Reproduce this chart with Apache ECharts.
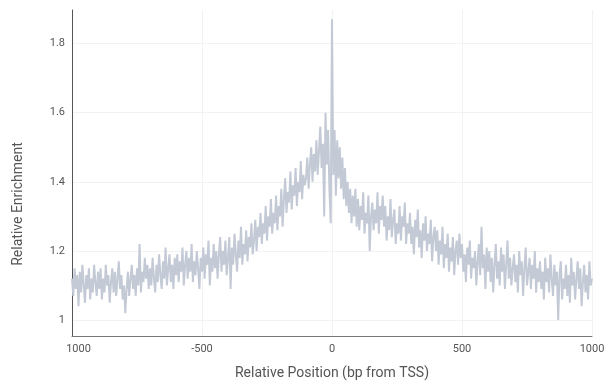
<!DOCTYPE html>
<html>
<head>
<meta charset="utf-8">
<script src="https://cdn.jsdelivr.net/npm/echarts@6/dist/echarts.min.js"></script>
<style>
  html, body { margin: 0; padding: 0; background: #fff; }
  #chart { width: 613px; height: 385px; }
</style>
</head>
<body>
<div id="chart"></div>
<script>
// Relative enrichment profile around the TSS, sampled every 5 bp from -1000 to +1000
const startPos = -1000;
const stepBp = 5;
const enrichment = [
  // -1000 .. -905
  1.12,1.07,1.15,1.09,1.13,1.04,1.14,1.08,1.16,1.10,1.05,1.13,1.09,1.15,1.06,1.12,1.08,1.16,1.11,1.07,
  // -900 .. -805
  1.14,1.09,1.15,1.06,1.12,1.08,1.16,1.10,1.13,1.05,1.11,1.15,1.08,1.14,1.07,1.12,1.17,1.09,1.13,1.06,
  // -800 .. -705
  1.10,1.02,1.09,1.14,1.07,1.12,1.16,1.09,1.13,1.07,1.15,1.10,1.22,1.08,1.14,1.11,1.18,1.12,1.16,1.09,
  // -700 .. -605
  1.15,1.10,1.18,1.12,1.08,1.16,1.11,1.19,1.13,1.09,1.17,1.12,1.21,1.10,1.15,1.19,1.11,1.16,1.09,1.18,
  // -600 .. -505
  1.13,1.19,1.11,1.17,1.14,1.21,1.10,1.16,1.20,1.12,1.18,1.14,1.22,1.11,1.17,1.13,1.20,1.15,1.09,1.18,
  // -500 .. -405
  1.14,1.21,1.12,1.19,1.16,1.23,1.10,1.18,1.14,1.22,1.15,1.20,1.12,1.19,1.24,1.14,1.20,1.16,1.23,1.13,
  // -400 .. -305
  1.18,1.24,1.09,1.21,1.16,1.25,1.19,1.14,1.23,1.18,1.27,1.16,1.22,1.19,1.26,1.17,1.24,1.21,1.28,1.19,
  // -300 .. -205
  1.23,1.29,1.20,1.27,1.24,1.31,1.22,1.28,1.25,1.33,1.23,1.30,1.27,1.35,1.25,1.31,1.28,1.36,1.26,1.33,
  // -200 .. -105
  1.30,1.38,1.27,1.35,1.41,1.31,1.37,1.34,1.43,1.32,1.39,1.36,1.44,1.33,1.40,1.37,1.46,1.35,1.42,1.39,
  // -100 .. -5
  1.41,1.47,1.38,1.45,1.50,1.40,1.48,1.43,1.52,1.42,1.49,1.56,1.44,1.51,1.30,1.60,1.45,1.55,1.38,1.28,
  // 0 .. 95
  1.87,1.42,1.55,1.36,1.52,1.41,1.50,1.38,1.47,1.35,1.44,1.33,1.40,1.31,1.38,1.28,1.36,1.30,1.38,1.27,
  // 100 .. 195
  1.35,1.26,1.33,1.29,1.37,1.25,1.31,1.28,1.36,1.20,1.30,1.34,1.26,1.32,1.28,1.37,1.25,1.33,1.29,1.36,
  // 200 .. 295
  1.27,1.33,1.23,1.30,1.26,1.35,1.24,1.29,1.32,1.22,1.28,1.25,1.33,1.23,1.30,1.27,1.34,1.22,1.28,1.25,
  // 300 .. 395
  1.31,1.22,1.27,1.19,1.29,1.24,1.32,1.21,1.26,1.18,1.28,1.23,1.30,1.20,1.25,1.22,1.29,1.17,1.24,1.27,
  // 400 .. 495
  1.20,1.26,1.16,1.23,1.19,1.27,1.15,1.22,1.18,1.25,1.14,1.21,1.17,1.24,1.13,1.20,1.23,1.16,1.25,1.18,
  // 500 .. 595
  1.22,1.14,1.19,1.11,1.21,1.16,1.23,1.12,1.18,1.15,1.20,1.10,1.17,1.22,1.13,1.27,1.15,1.19,1.09,1.21,
  // 600 .. 695
  1.14,1.20,1.11,1.18,1.08,1.16,1.22,1.12,1.17,1.10,1.21,1.14,1.19,1.09,1.16,1.23,1.12,1.18,1.10,1.15,
  // 700 .. 795
  1.19,1.11,1.16,1.08,1.20,1.13,1.17,1.07,1.15,1.21,1.10,1.14,1.18,1.09,1.16,1.12,1.20,1.08,1.15,1.11,
  // 800 .. 895
  1.17,1.09,1.14,1.06,1.18,1.11,1.15,1.08,1.19,1.12,1.07,1.16,1.10,1.14,1.00,1.13,1.17,1.06,1.12,1.09,
  // 900 .. 995
  1.16,1.07,1.13,1.05,1.18,1.10,1.14,1.06,1.12,1.17,1.09,1.15,1.04,1.11,1.16,1.08,1.13,1.06,1.17,1.10,
  // 1000
  1.12
];

const xTickValues = [-1000, -500, 0, 500, 1000];
const xTickLabels = ['1000', '-500', '0', '500', '1000'];
const yTickValues = [1, 1.2, 1.4, 1.6, 1.8];
const yTickLabels = ['1', '1.2', '1.4', '1.6', '1.8'];

const points = enrichment.map((v, i) => [startPos + i * stepBp, v]);

const chart = echarts.init(document.getElementById('chart'), null, { renderer: 'canvas' });
const fontFamily = 'Roboto, "Noto Sans", sans-serif';

chart.setOption({
  animation: false,
  backgroundColor: '#ffffff',
  grid: { left: 72, right: 21, top: 10, bottom: 49, containLabel: false },
  xAxis: {
    type: 'value',
    min: -1000,
    max: 1000,
    interval: 500,
    name: 'Relative Position (bp from TSS)',
    nameLocation: 'middle',
    nameGap: 30,
    nameTextStyle: { color: '#555', fontSize: 14, fontFamily },
    axisLine: { show: true, onZero: false, lineStyle: { color: '#777', width: 1 } },
    axisTick: { show: false },
    splitLine: { show: true, lineStyle: { color: '#f2f2f2', width: 1 } },
    axisLabel: {
      color: '#555',
      fontSize: 11,
      fontFamily,
      margin: 8,
      formatter: (v) => {
        const idx = xTickValues.indexOf(v);
        const txt = idx >= 0 ? xTickLabels[idx] : '';
        return v === xTickValues[0] ? '{first|' + txt + '}' : txt;
      },
      rich: { first: { color: '#555', fontSize: 11, fontFamily, padding: [0, 0, 0, 13] } }
    }
  },
  yAxis: {
    type: 'value',
    min: 0.954,
    max: 1.897,
    name: 'Relative Enrichment',
    nameLocation: 'middle',
    nameGap: 47,
    nameTextStyle: { color: '#555', fontSize: 14, fontFamily, padding: [0, 62, 0, 0] },
    axisLine: { show: true, onZero: false, lineStyle: { color: '#555', width: 1 } },
    axisTick: { show: false, customValues: yTickValues },
    splitLine: { show: true, lineStyle: { color: '#f2f2f2', width: 1 } },
    axisLabel: {
      color: '#555',
      fontSize: 11,
      fontFamily,
      margin: 7,
      customValues: yTickValues,
      formatter: (v) => {
        const idx = yTickValues.findIndex(t => Math.abs(t - v) < 1e-6);
        return idx >= 0 ? yTickLabels[idx] : '';
      }
    }
  },
  series: [{
    type: 'line',
    data: points,
    showSymbol: false,
    symbol: 'none',
    lineStyle: { color: '#c3cad6', width: 2 },
    emphasis: { disabled: true }
  }]
});
</script>
</body>
</html>
